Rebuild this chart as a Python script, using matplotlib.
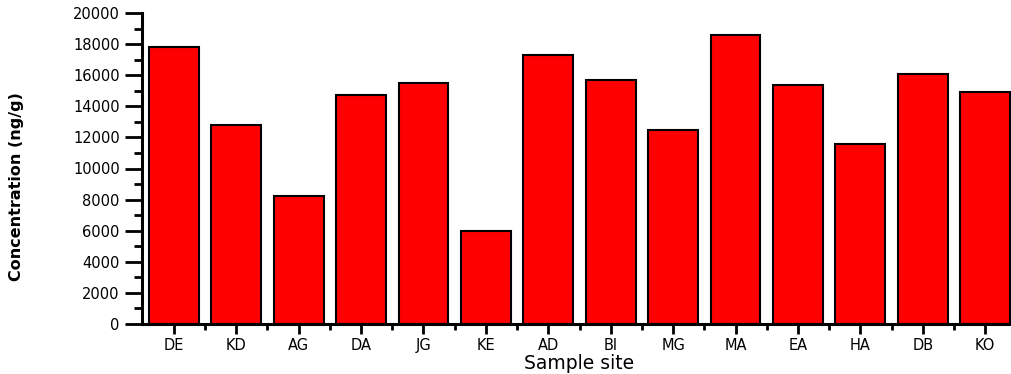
import matplotlib
matplotlib.use("Agg")
import matplotlib.pyplot as plt
from matplotlib.ticker import MultipleLocator, FixedLocator
import numpy as np

sites = ["DE", "KD", "AG", "DA", "JG", "KE", "AD", "BI", "MG", "MA", "EA", "HA", "DB", "KO"]
conc = [17800, 12800, 8200, 14700, 15500, 6000, 17300, 15700, 12500, 18600, 15400, 11600, 16100, 14900]

plt.rcParams['font.family'] = ['DejaVu Sans']

fig = plt.figure(figsize=(10.12, 3.74), dpi=100)
ax = fig.add_axes([142 / 1012, 50 / 374, 875 / 1012, 311 / 374])

x = np.arange(len(sites))
ax.bar(x, conc, width=0.8, color="#FF0000", edgecolor="black", linewidth=1.5)

ax.set_xlim(-0.51, 13.51)
ax.set_ylim(0, 20000)
ax.set_xticks(x)
ax.set_xticklabels(sites, fontsize=10.5)
ax.xaxis.set_minor_locator(FixedLocator(x[:-1] + 0.5))
ax.yaxis.set_major_locator(MultipleLocator(2000))
ax.yaxis.set_minor_locator(MultipleLocator(1000))
ax.tick_params(axis='y', which='major', length=12, width=2, labelsize=10.5, pad=4)
ax.tick_params(axis='y', which='minor', length=6, width=2)
ax.tick_params(axis='x', which='major', length=7, width=2, pad=3)
ax.tick_params(axis='x', which='minor', length=4, width=2)

for s in ['top', 'right']:
    ax.spines[s].set_visible(False)
for s in ['left', 'bottom']:
    ax.spines[s].set_linewidth(2.2)

ax.set_xlabel("Sample site", fontsize=13.5, labelpad=1)
fig.text(0.016, 0.5, "Concentration (ng/g)", rotation=90, ha='center', va='center',
         fontsize=11.5, fontweight='bold')

fig.savefig("out.png", dpi=100)
